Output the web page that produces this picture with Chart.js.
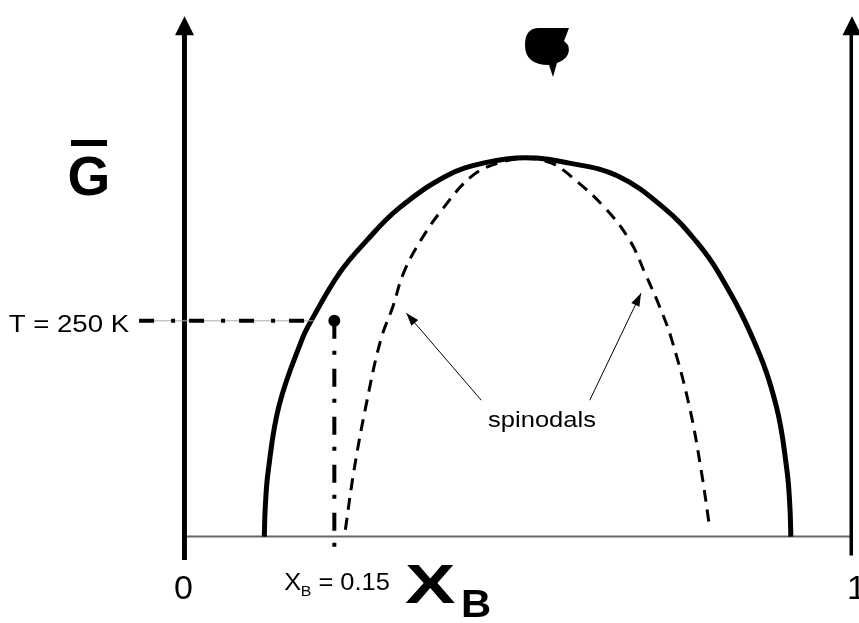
<!DOCTYPE html>
<html>
<head>
<meta charset="utf-8">
<script src="https://cdn.jsdelivr.net/npm/chart.js@4.4.0/dist/chart.umd.min.js"></script>
<style>
  body { margin: 0; background: #fff; }
  canvas { display: block; }
</style>
</head>
<body>
<canvas id="myChart" width="859" height="623"></canvas>
<script>
// binodal (solid) and spinodal (dashed), x = X_B, y = T (K)
const binodalX = [0.1196, 0.1211, 0.1256, 0.1418, 0.1758, 0.1905, 0.2319, 0.2718, 0.3205, 0.3929, 0.449, 0.5111, 0.5746, 0.6484, 0.7194, 0.7666, 0.8006, 0.8523, 0.8863, 0.9025, 0.9069, 0.9084];
const binodalT = [0, 35, 77, 152, 228, 251, 305, 342, 380, 418, 433, 439, 433, 418, 380, 342, 305, 228, 152, 77, 35, 0];
const spinodalX = [0.241, 0.254, 0.272, 0.294, 0.312, 0.328, 0.353, 0.387, 0.431, 0.471, 0.511, 0.549, 0.578, 0.631, 0.668, 0.690, 0.712, 0.730, 0.756, 0.774, 0.787];
const spinodalT = [8, 77, 152, 228, 266, 305, 342, 380, 418, 433, 438, 433, 418, 380, 342, 305, 266, 228, 152, 77, 9];

const markX = 0.2245;
const markT = 250;
const guideX = [-0.068, 0.1935];
const dropT = [250, -27];
const leftAxisT = [-27, 582];
const rightAxisT = [-22, 582];
const axisTipT = 603;
const arrowFrom = [[0.4446, 158], [0.6071, 158]];
const arrowTo = [[0.3323, 259], [0.6839, 282]];

const FONT = "'Liberation Sans', Arial, sans-serif";

function pts(xs, ys) { return xs.map((x, i) => ({ x: x, y: ys[i] })); }

function txt(ctx, s, x, y, font, align, sx) {
    ctx.save();
    ctx.font = font;
    ctx.textAlign = align;
    ctx.textBaseline = 'alphabetic';
    ctx.fillStyle = '#000';
    ctx.translate(x, y);
    ctx.scale(sx, 1);
    ctx.fillText(s, 0, 0);
    ctx.restore();
}

function arrowHead(ctx, x0, y0, x1, y1, len, half) {
    const a = Math.atan2(y1 - y0, x1 - x0);
    ctx.beginPath();
    ctx.moveTo(x1, y1);
    ctx.lineTo(x1 - len * Math.cos(a) + half * Math.sin(a), y1 - len * Math.sin(a) - half * Math.cos(a));
    ctx.lineTo(x1 - len * Math.cos(a) - half * Math.sin(a), y1 - len * Math.sin(a) + half * Math.cos(a));
    ctx.closePath();
    ctx.fill();
}

const decor = {
    id: 'decor',
    afterDatasetsDraw(chart) {
        const ctx = chart.ctx;
        const sx = chart.scales.x, sy = chart.scales.y;
        const px = v => sx.getPixelForValue(v), py = v => sy.getPixelForValue(v);
        ctx.save();
        ctx.fillStyle = '#000';

        // axis arrow heads
        [0, 1].forEach(v => {
            arrowHead(ctx, px(v), py(leftAxisT[1]), px(v), py(axisTipT), 19, 9.5);
        });
        // spinodal pointer heads
        arrowFrom.forEach((f, i) => {
            arrowHead(ctx, px(f[0]), py(f[1]), px(arrowTo[i][0]), py(arrowTo[i][1]), 13, 4.5);
        });

        const base = py(0);
        txt(ctx, 'T = 250 K', px(guideX[0]) - 10, py(markT) + 11, '24px ' + FONT, 'right', 1.15);
        txt(ctx, 'spinodals', 542, 427, '22px ' + FONT, 'center', 1.16);
        txt(ctx, '0', px(0) - 1, base + 62, '34px ' + FONT, 'center', 1);
        txt(ctx, '1', px(1) - 5, base + 62, '34px ' + FONT, 'left', 1);

        // X_B = 0.15
        let x0 = px(markX) - 50;
        txt(ctx, 'X', x0, base + 53, '24px ' + FONT, 'left', 1.06);
        txt(ctx, 'B', x0 + 16.5, base + 59, '15px ' + FONT, 'left', 1.06);
        txt(ctx, ' = 0.15', x0 + 27, base + 53, '24px ' + FONT, 'left', 1.06);

        // big X_B axis title
        txt(ctx, 'X', 405, base + 66, 'bold 56px ' + FONT, 'left', 1.35);
        txt(ctx, 'B', 461, base + 80, 'bold 38px ' + FONT, 'left', 1.1);

        // G with bar
        txt(ctx, 'G', 89, 195, 'bold 55px ' + FONT, 'center', 1);
        ctx.fillRect(71, 140, 36, 6);

        // top glyph
        ctx.save();
        ctx.translate(547, 47);
        ctx.beginPath();
        ctx.moveTo(22, -19);
        ctx.lineTo(17, -6);
        ctx.lineTo(21, -2);
        ctx.quadraticCurveTo(25, 10, 10, 16);
        ctx.lineTo(6, 30);
        ctx.lineTo(2, 18);
        ctx.quadraticCurveTo(-22, 18, -22, -2);
        ctx.quadraticCurveTo(-22, -19, -8, -19);
        ctx.closePath();
        ctx.fill();
        ctx.restore();

        ctx.restore();
    }
};

const line = (data, color, width, extra) => Object.assign({
    data: data, showLine: true, borderColor: color, backgroundColor: color,
    borderWidth: width, pointRadius: 0, fill: false
}, extra || {});

new Chart(document.getElementById('myChart').getContext('2d'), {
    type: 'scatter',
    data: {
        datasets: [
            line([{ x: markX, y: markT }], '#000', 0, { showLine: false, pointRadius: 6, pointBackgroundColor: '#000' }),
            line(pts([markX, markX], dropT), '#000', 4, { borderDash: [18, 12, 4, 14] }),
            line(pts(guideX, [markT, markT]), '#000', 4, { borderDash: [15, 17, 4, 14] }),
            line(pts(guideX, [markT, markT]), '#aaa', 1),
            line(pts(binodalX, binodalT), '#000', 5, { tension: 0.4 }),
            line(pts(spinodalX, spinodalT), '#000', 3, { tension: 0.4, borderDash: [12, 8] }),
            line(pts([arrowFrom[0][0], arrowTo[0][0]], [arrowFrom[0][1], arrowTo[0][1]]), '#000', 1),
            line(pts([arrowFrom[1][0], arrowTo[1][0]], [arrowFrom[1][1], arrowTo[1][1]]), '#000', 1),
            line(pts([0, 0], leftAxisT), '#000', 5),
            line(pts([1, 1], rightAxisT), '#000', 5),
            line(pts([0, 1], [0, 0]), '#666', 2)
        ]
    },
    options: {
        responsive: false,
        animation: false,
        layout: { padding: 0 },
        scales: {
            x: { type: 'linear', display: false, min: -181 / 677, max: 678 / 677 },
            y: { type: 'linear', display: false, min: -82 / 0.88, max: 541 / 0.88 }
        },
        plugins: { legend: { display: false }, tooltip: { enabled: false } }
    },
    plugins: [decor]
});
</script>
</body>
</html>
